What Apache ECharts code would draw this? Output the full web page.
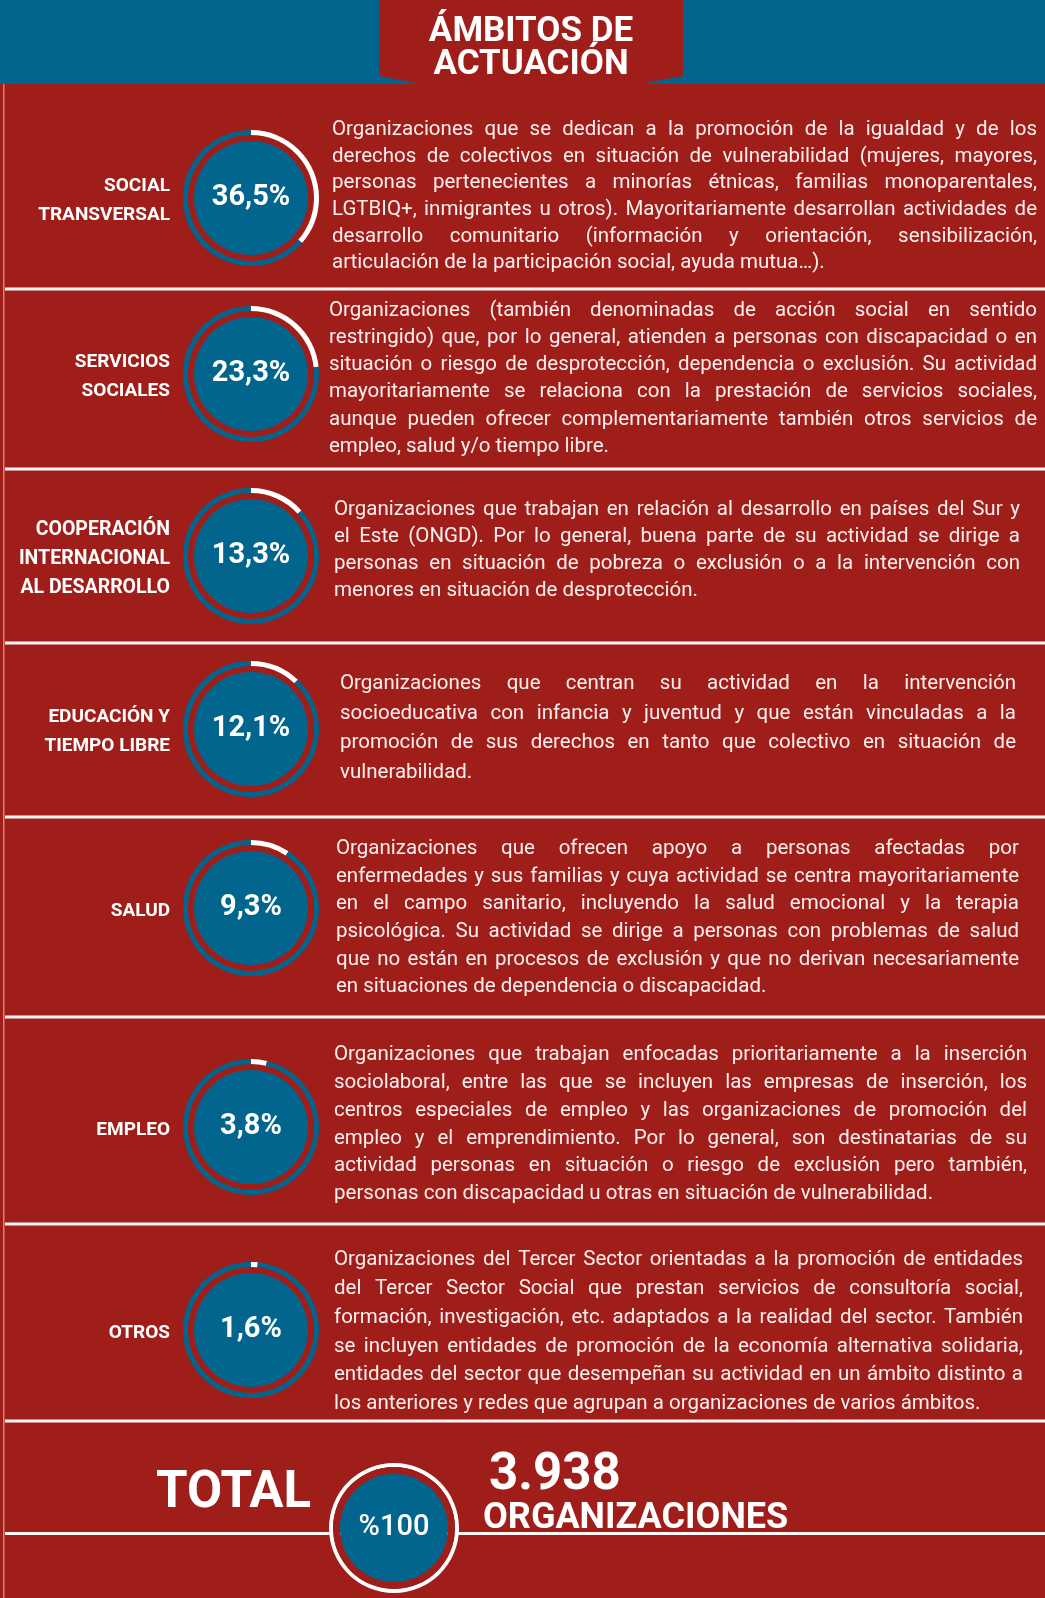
<!DOCTYPE html>
<html>
<head>
<meta charset="utf-8">
<script src="https://cdn.jsdelivr.net/npm/echarts@6/dist/echarts.min.js"></script>
<style>
html,body{margin:0;padding:0;background:#a01e1a;}
#chart{width:1045px;height:1598px;}
</style>
</head>
<body>
<div id="chart"></div>
<script>
// ---------------- DATA ----------------
const titleLines = ['ÁMBITOS DE', 'ACTUACIÓN'];
const categories = [
  ['SOCIAL', 'TRANSVERSAL'],
  ['SERVICIOS', 'SOCIALES'],
  ['COOPERACIÓN', 'INTERNACIONAL', 'AL DESARROLLO'],
  ['EDUCACIÓN Y', 'TIEMPO LIBRE'],
  ['SALUD'],
  ['EMPLEO'],
  ['OTROS']
];
const shares = [36.5, 23.3, 13.3, 12.1, 9.3, 3.8, 1.6];
const descriptions = [
  ['Organizaciones que se dedican a la promoción de la igualdad y de los',
   'derechos de colectivos en situación de vulnerabilidad (mujeres, mayores,',
   'personas pertenecientes a minorías étnicas, familias monoparentales,',
   'LGTBIQ+, inmigrantes u otros). Mayoritariamente desarrollan actividades de',
   'desarrollo comunitario (información y orientación, sensibilización,',
   'articulación de la participación social, ayuda mutua…).'],
  ['Organizaciones (también denominadas de acción social en sentido',
   'restringido) que, por lo general, atienden a personas con discapacidad o en',
   'situación o riesgo de desprotección, dependencia o exclusión. Su actividad',
   'mayoritariamente se relaciona con la prestación de servicios sociales,',
   'aunque pueden ofrecer complementariamente también otros servicios de',
   'empleo, salud y/o tiempo libre.'],
  ['Organizaciones que trabajan en relación al desarrollo en países del Sur y',
   'el Este (ONGD). Por lo general, buena parte de su actividad se dirige a',
   'personas en situación de pobreza o exclusión o a la intervención con',
   'menores en situación de desprotección.'],
  ['Organizaciones que centran su actividad en la intervención',
   'socioeducativa con infancia y juventud y que están vinculadas a la',
   'promoción de sus derechos en tanto que colectivo en situación de',
   'vulnerabilidad.'],
  ['Organizaciones que ofrecen apoyo a personas afectadas por',
   'enfermedades y sus familias y cuya actividad se centra mayoritariamente',
   'en el campo sanitario, incluyendo la salud emocional y la terapia',
   'psicológica. Su actividad se dirige a personas con problemas de salud',
   'que no están en procesos de exclusión y que no derivan necesariamente',
   'en situaciones de dependencia o discapacidad.'],
  ['Organizaciones que trabajan enfocadas prioritariamente a la inserción',
   'sociolaboral, entre las que se incluyen las empresas de inserción, los',
   'centros especiales de empleo y las organizaciones de promoción del',
   'empleo y el emprendimiento. Por lo general, son destinatarias de su',
   'actividad personas en situación o riesgo de exclusión pero también,',
   'personas con discapacidad u otras en situación de vulnerabilidad.'],
  ['Organizaciones del Tercer Sector orientadas a la promoción de entidades',
   'del Tercer Sector Social que prestan servicios de consultoría social,',
   'formación, investigación, etc. adaptados a la realidad del sector. También',
   'se incluyen entidades de promoción de la economía alternativa solidaria,',
   'entidades del sector que desempeñan su actividad en un ámbito distinto a',
   'los anteriores y redes que agrupan a organizaciones de varios ámbitos.']
];
const totalLabel = 'TOTAL';
const totalShare = 100;
const totalOrganizations = 3938;
const organizationsLabel = 'ORGANIZACIONES';

// ---------------- LAYOUT ----------------
const RED = '#a01e1a', BLUE = '#02658e', WHITE = '#ffffff', TXT = '#fbefee';
const FONT = 'Roboto, "Noto Sans", sans-serif';
const ringX = 251;
const rowCenters = [198, 374, 556, 729, 908, 1127, 1330];
const textTop = [130, 311, 510, 684, 849, 1055, 1260];
const lineGap = [26.6, 27.1, 27, 29.5, 27.6, 27.8, 28.8];
const textLeft = [332, 329, 334, 340, 336, 334, 334];
const textRight = [1037, 1037, 1020, 1016, 1019, 1027, 1023];
const separators = [289, 469, 643, 817, 1017, 1224, 1421];
const labelSizes = [19, 19, 19.5, 19, 19, 19, 19];

const ctx = document.createElement('canvas').getContext('2d');
function measure(t, font) { ctx.font = font; return ctx.measureText(t).width; }
function fmtPct(v) { return v.toFixed(1).replace('.', ',') + '%'; }
function fmtThousands(v) { return String(v).replace(/\B(?=(\d{3})+(?!\d))/g, '.'); }

const elements = [];
// backgrounds
elements.push({type:'rect', shape:{x:0,y:0,width:1045,height:84}, style:{fill:BLUE}, z:0});
elements.push({type:'rect', shape:{x:0,y:84,width:1045,height:1514}, style:{fill:RED}, z:0});
elements.push({type:'polygon', shape:{points:[[379,0],[683,0],[683,76],[641,84],[420,84],[379,76]]}, style:{fill:RED}, z:0});
elements.push({type:'rect', shape:{x:3,y:84,width:1.5,height:1514}, style:{fill:'rgba(255,215,210,0.55)'}, z:1});
// separators
separators.forEach(y => {
  elements.push({type:'rect', shape:{x:5,y:y-1.5,width:1040,height:3}, style:{fill:'#fff6f4'}, z:1});
});
elements.push({type:'rect', shape:{x:5,y:1532,width:1040,height:3}, style:{fill:'#fff6f4'}, z:1});

// title
titleLines.forEach((t, i) => {
  elements.push({type:'text', z:10, style:{text:t, x:531, y:[30, 63][i] + 2, fill:WHITE,
    font:'bold 35px ' + FONT, textAlign:'center', textVerticalAlign:'middle'}});
});

// row labels + descriptions
categories.forEach((lines, r) => {
  const n = lines.length, gap = 29;
  lines.forEach((t, k) => {
    const y = rowCenters[r] + 2 + (k - (n - 1) / 2) * gap;
    elements.push({type:'text', z:10, style:{text:t, x:170, y:y + 1, fill:WHITE,
      font:'bold ' + labelSizes[r] + 'px ' + FONT, textAlign:'right', textVerticalAlign:'middle'}});
  });
  const desc = descriptions[r];
  const W = textRight[r] - textLeft[r];
  let maxNat = 0;
  desc.forEach(l => { maxNat = Math.max(maxNat, measure(l, '20px ' + FONT)); });
  const size = Math.min(20.5, 20 * W / maxNat);
  const font = size.toFixed(2) + 'px ' + FONT;
  desc.forEach((l, k) => {
    const y = textTop[r] + k * lineGap[r];
    if (k === desc.length - 1) {
      elements.push({type:'text', z:10, style:{text:l, x:textLeft[r], y:y, fill:TXT, font:font, textAlign:'left', textVerticalAlign:'middle'}});
      return;
    }
    const words = l.split(' ');
    const ws = words.map(w => measure(w, font));
    const sum = ws.reduce((a, b) => a + b, 0);
    const g = words.length > 1 ? (W - sum) / (words.length - 1) : 0;
    let x = textLeft[r];
    words.forEach((w, j) => {
      elements.push({type:'text', z:10, style:{text:w, x:x, y:y, fill:TXT, font:font, textAlign:'left', textVerticalAlign:'middle'}});
      x += ws[j] + g;
    });
  });
});

// total texts
elements.push({type:'text', z:10, style:{text:totalLabel, x:156, y:1494, fill:WHITE, font:'bold 51px ' + FONT, textAlign:'left', textVerticalAlign:'middle'}});
elements.push({type:'text', z:10, style:{text:fmtThousands(totalOrganizations), x:489, y:1476, fill:WHITE, font:'bold 51px ' + FONT, textAlign:'left', textVerticalAlign:'middle'}});
elements.push({type:'text', z:10, style:{text:organizationsLabel, x:483, y:1519, fill:WHITE, font:'bold 36px ' + FONT, textAlign:'left', textVerticalAlign:'middle'}});

// ---------------- SERIES ----------------
const series = [];
shares.forEach((s, r) => {
  const c = [ringX, rowCenters[r]];
  series.push({type:'pie', silent:true, animation:false, center:c, radius:[63, 68], startAngle:90, clockwise:true,
    label:{show:false}, labelLine:{show:false}, z:3,
    data:[{name:'share', value:s, itemStyle:{color:WHITE}}, {name:'rest', value:100 - s, itemStyle:{color:BLUE}}]});
  series.push({type:'pie', silent:true, animation:false, center:c, radius:[0, 57], z:3,
    labelLine:{show:false},
    label:{show:true, position:'center', formatter:() => fmtPct(s), color:WHITE, fontSize:29, fontWeight:'bold', fontFamily:'Roboto'},
    data:[{name:categories[r].join(' '), value:s, itemStyle:{color:BLUE}}]});
});
const tc = [394, 1528];
series.push({type:'pie', silent:true, animation:false, center:tc, radius:[61, 65], z:3, label:{show:false}, labelLine:{show:false},
  data:[{value:totalShare, itemStyle:{color:WHITE}}]});
series.push({type:'pie', silent:true, animation:false, center:tc, radius:[54, 61], z:3, label:{show:false}, labelLine:{show:false},
  data:[{value:totalShare, itemStyle:{color:RED}}]});
series.push({type:'pie', silent:true, animation:false, center:tc, radius:[0, 54], z:3, labelLine:{show:false},
  label:{show:true, position:'center', formatter:() => '%' + totalShare, color:WHITE, fontSize:29, fontWeight:500, fontFamily:'Roboto', padding:[10,0,0,0]},
  data:[{value:totalShare, itemStyle:{color:BLUE}}]});

const chart = echarts.init(document.getElementById('chart'), null, {renderer:'canvas'});
chart.setOption({animation:false, backgroundColor:RED, graphic:{elements:elements}, series:series});
</script>
</body>
</html>
